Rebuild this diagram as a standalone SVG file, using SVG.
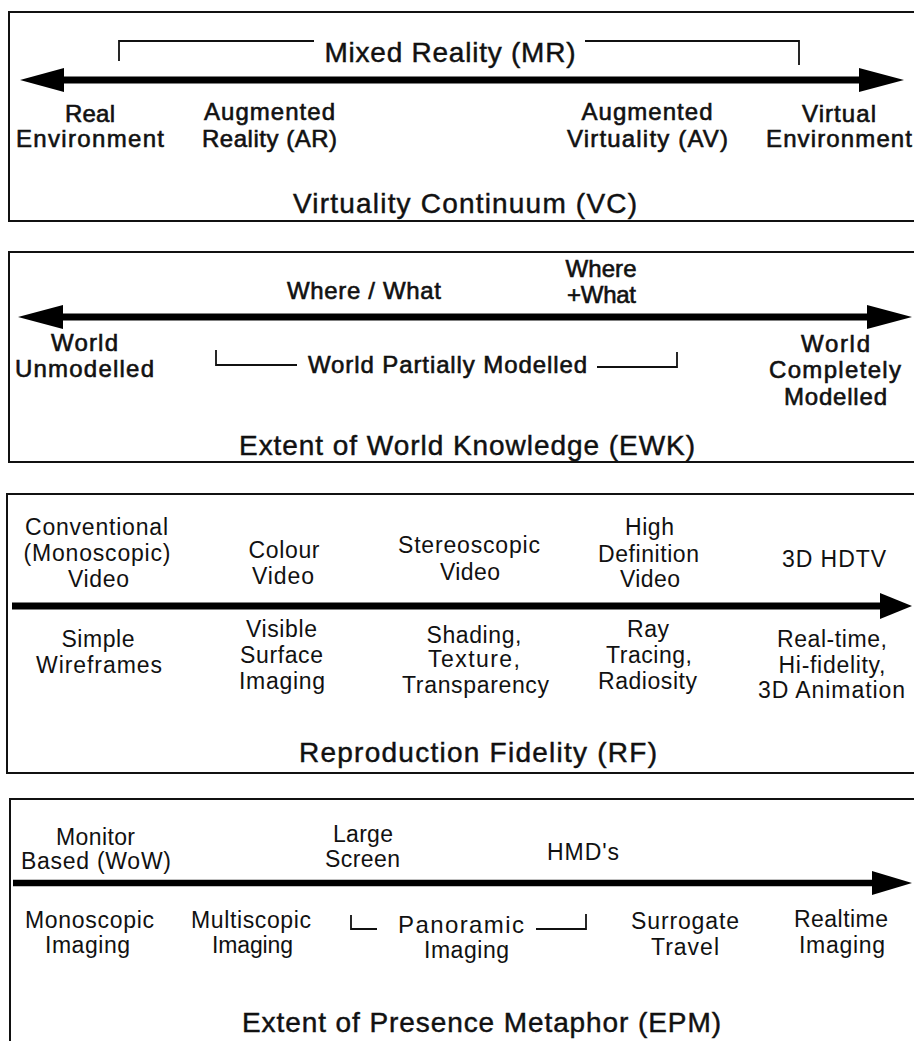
<svg xmlns="http://www.w3.org/2000/svg" width="914" height="1041" viewBox="0 0 914 1041">
<style>
text{font-family:"Liberation Sans",Arial,sans-serif;fill:#111;text-anchor:middle}
.a{font-size:24px;stroke:#111;stroke-width:0.6}
.b{font-size:23px}
.t{font-size:28px;stroke:#111;stroke-width:0.45}
.box{fill:none;stroke:#111;stroke-width:2}
.ax{stroke:#000;stroke-width:7;fill:none}
.hd{fill:#000}
.br{fill:none;stroke:#111;stroke-width:1.8}
</style>
<rect width="914" height="1041" fill="#fff"/>
<g id="panels">
<rect class="box" x="9" y="12" width="920" height="209"/>
<rect class="box" x="9" y="252" width="920" height="210"/>
<rect class="box" x="7" y="494" width="920" height="279"/>
<rect class="box" x="10" y="799" width="920" height="260"/>
</g>
<g id="connectors">
<line class="ax" x1="60" y1="80" x2="862" y2="80"/>
<polygon class="hd" points="20,80 64,68 64,92"/>
<polygon class="hd" points="904,80 859,68 859,92"/>
<polyline class="br" points="119,61 119,41 314,41"/>
<polyline class="br" points="585,41 799,41 799,65"/>
<line class="ax" x1="58" y1="317" x2="872" y2="317"/>
<polygon class="hd" points="18,317 63,305 63,329"/>
<polygon class="hd" points="912,317 867,305 867,329"/>
<polyline class="br" points="216,350 216,365 297,365"/>
<polyline class="br" points="597,367 677,367 677,352"/>
<line class="ax" x1="12" y1="606" x2="885" y2="606"/>
<polygon class="hd" points="912,606 880,593 880,619"/>
<line class="ax" x1="13" y1="883" x2="876" y2="883" style="stroke-width:6.5"/>
<polygon class="hd" points="912,883 872,871 872,895"/>
<polyline class="br" points="351,915 351,929 377,929"/>
<polyline class="br" points="536,929 586,929 586,914"/>
</g>
<g id="vc">
<g id="mr"><text class="t" x="450" y="62" textLength="251">Mixed Reality (MR)</text></g>
<g id="re"><text class="a" x="90" y="122" textLength="50">Real</text><text class="a" x="90" y="147" textLength="148">Environment</text></g>
<g id="ar"><text class="a" x="269.5" y="120" textLength="131">Augmented</text><text class="a" x="269.5" y="147" textLength="135">Reality (AR)</text></g>
<g id="av"><text class="a" x="647" y="120" textLength="131">Augmented</text><text class="a" x="647.5" y="147" textLength="161">Virtuality (AV)</text></g>
<g id="ve"><text class="a" x="839" y="122" textLength="74">Virtual</text><text class="a" x="839" y="147" textLength="146">Environment</text></g>
<g id="vc-title"><text class="t" x="465" y="213" textLength="344">Virtuality Continuum (VC)</text></g>
</g>
<g id="ewk">
<g id="wherewhat"><text class="a" x="364" y="299" textLength="154">Where / What</text></g>
<g id="whereplus"><text class="a" x="601" y="277" textLength="71">Where</text><text class="a" x="601.5" y="303" textLength="69">+What</text></g>
<g id="wu"><text class="a" x="84.5" y="351" textLength="67">World</text><text class="a" x="84.5" y="377" textLength="139">Unmodelled</text></g>
<g id="wpm"><text class="a" x="447.5" y="373" textLength="279">World Partially Modelled</text></g>
<g id="wcm"><text class="a" x="835.5" y="352" textLength="69">World</text><text class="a" x="835" y="378" textLength="132">Completely</text><text class="a" x="835.5" y="405" textLength="103">Modelled</text></g>
<g id="ewk-title"><text class="t" x="467" y="455" textLength="456">Extent of World Knowledge (EWK)</text></g>
</g>
<g id="rf">
<g id="cv"><text class="b" x="96.5" y="535" textLength="143">Conventional</text><text class="b" x="97" y="561" textLength="147">(Monoscopic)</text><text class="b" x="98.5" y="587" textLength="61">Video</text></g>
<g id="colv"><text class="b" x="284" y="558" textLength="71">Colour</text><text class="b" x="283" y="584" textLength="62">Video</text></g>
<g id="stv"><text class="b" x="469" y="553" textLength="142">Stereoscopic</text><text class="b" x="470" y="580" textLength="60">Video</text></g>
<g id="hdv"><text class="b" x="649.5" y="535" textLength="49">High</text><text class="b" x="648.5" y="562" textLength="101">Definition</text><text class="b" x="650" y="587" textLength="60">Video</text></g>
<g id="hdtv"><text class="b" x="834" y="567" textLength="104">3D HDTV</text></g>
<g id="sw"><text class="b" x="98" y="647" textLength="73">Simple</text><text class="b" x="99" y="673" textLength="126">Wireframes</text></g>
<g id="vsi"><text class="b" x="281.5" y="637" textLength="71">Visible</text><text class="b" x="281.5" y="663" textLength="83">Surface</text><text class="b" x="282" y="689" textLength="86">Imaging</text></g>
<g id="stt"><text class="b" x="474" y="643" textLength="95">Shading,</text><text class="b" x="474" y="667" textLength="92">Texture,</text><text class="b" x="475.5" y="693" textLength="147">Transparency</text></g>
<g id="rtr"><text class="b" x="648" y="637" textLength="42">Ray</text><text class="b" x="649" y="663" textLength="86">Tracing,</text><text class="b" x="647.5" y="689" textLength="99">Radiosity</text></g>
<g id="rha"><text class="b" x="832" y="647" textLength="110">Real-time,</text><text class="b" x="832" y="673" textLength="107">Hi-fidelity,</text><text class="b" x="831.5" y="698" textLength="147">3D Animation</text></g>
<g id="rf-title"><text class="t" x="478" y="762" textLength="358">Reproduction Fidelity (RF)</text></g>
</g>
<g id="epm">
<g id="mb"><text class="b" x="95.5" y="845" textLength="79">Monitor</text><text class="b" x="96" y="869" textLength="150">Based (WoW)</text></g>
<g id="ls"><text class="b" x="363" y="842" textLength="60">Large</text><text class="b" x="362.5" y="867" textLength="75">Screen</text></g>
<g id="hmd"><text class="b" x="583" y="860" textLength="72">HMD's</text></g>
<g id="mi"><text class="b" x="89.5" y="928" textLength="129">Monoscopic</text><text class="b" x="87.5" y="953" textLength="85">Imaging</text></g>
<g id="msi"><text class="b" x="251" y="928" textLength="120">Multiscopic</text><text class="b" x="252.5" y="953" textLength="81">Imaging</text></g>
<g id="pi"><text class="b" x="461" y="933" textLength="126" style="font-size:24px">Panoramic</text><text class="b" x="466.5" y="958" textLength="85">Imaging</text></g>
<g id="st"><text class="b" x="685" y="929" textLength="108">Surrogate</text><text class="b" x="685" y="955" textLength="68">Travel</text></g>
<g id="ri"><text class="b" x="841" y="927" textLength="94">Realtime</text><text class="b" x="842" y="953" textLength="86">Imaging</text></g>
<g id="epm-title"><text class="t" x="481.5" y="1032" textLength="479">Extent of Presence Metaphor (EPM)</text></g>
</g>
</svg>
